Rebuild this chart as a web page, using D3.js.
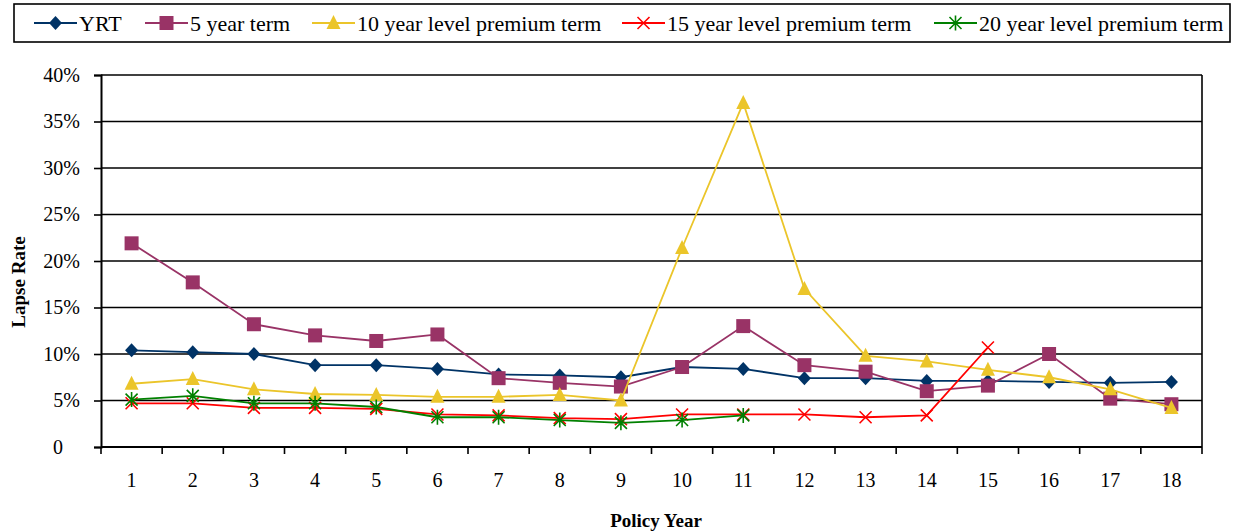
<!DOCTYPE html>
<html>
<head>
<meta charset="utf-8">
<script src="https://cdn.jsdelivr.net/npm/d3@7"></script>
<style>
  body { margin: 0; background: #fff; }
  svg text { font-family: "Liberation Serif", serif; }
</style>
</head>
<body>
<svg id="chart" width="1235" height="531" font-family="Liberation Serif"></svg>
<script>
// policy years and lapse rates (in %)
let years = [1, 2, 3, 4, 5, 6, 7, 8, 9, 10, 11, 12, 13, 14, 15, 16, 17, 18];

let yrt = [10.4, 10.2, 10.0, 8.8, 8.8, 8.4, 7.8, 7.7, 7.5, 8.6, 8.4, 7.4, 7.4, 7.1, 7.1, 7.0, 6.9, 7.0];
let term5 = [21.9, 17.7, 13.2, 12.0, 11.4, 12.1, 7.4, 6.9, 6.5, 8.6, 13.0, 8.8, 8.1, 6.0, 6.6, 10.0, 5.2, 4.6];
let term10 = [6.8, 7.3, 6.2, 5.7, 5.6, 5.4, 5.4, 5.6, 5.0, 21.4, 37.0, 17.0, 9.8, 9.2, 8.3, 7.5, 6.2, 4.2];
let term15 = [4.7, 4.7, 4.2, 4.2, 4.1, 3.5, 3.4, 3.1, 3.0, 3.5, 3.5, 3.5, 3.2, 3.4, 10.7];
let term20 = [5.1, 5.5, 4.7, 4.7, 4.3, 3.2, 3.2, 2.9, 2.6, 2.9, 3.4];

let yTicks = [0, 5, 10, 15, 20, 25, 30, 35, 40];

let seriesNames = ["YRT", "5 year term", "10 year level premium term", "15 year level premium term", "20 year level premium term"];
let seriesColors = ["#003366", "#993366", "#ebc52a", "#ff0000", "#008000"];
let seriesMarkers = ["diamond", "square", "triangle", "x", "star"];
let seriesValues = [yrt, term5, term10, term15, term20];

let svg = d3.select("#chart");

let plotLeft = 101, plotRight = 1202, plotTop = 75, plotBottom = 447;

let x = d3.scaleBand().domain(years).range([plotLeft, plotRight]);
let y = d3.scaleLinear().domain([0, 40]).range([plotBottom, plotTop]);

// marker shapes
function marker(g, type, color) {
    if (type == "diamond") {
        g.append("path").attr("d", "M0,-7L6.5,0L0,7L-6.5,0Z").attr("fill", color);
    } else if (type == "square") {
        g.append("rect").attr("x", -7).attr("y", -7).attr("width", 14).attr("height", 14).attr("fill", color);
    } else if (type == "triangle") {
        g.append("path").attr("d", "M0,-8L7,6L-7,6Z").attr("fill", color);
    } else if (type == "x") {
        g.append("path").attr("d", "M-6,-6L6,6M6,-6L-6,6").attr("stroke", color).attr("stroke-width", 1.6);
    } else if (type == "star") {
        g.append("path").attr("d", "M-6,-6L6,6M6,-6L-6,6M0,-7.5L0,7.5").attr("stroke", color).attr("stroke-width", 1.6);
    }
}

// gridlines
svg.append("g")
    .selectAll("line")
    .data(yTicks.slice(1))
    .join("line")
    .attr("x1", plotLeft)
    .attr("x2", plotRight)
    .attr("y1", d => y(d))
    .attr("y2", d => y(d))
    .attr("stroke", "#000")
    .attr("stroke-width", 1.6);

// right border
svg.append("line")
    .attr("x1", plotRight).attr("x2", plotRight)
    .attr("y1", plotTop).attr("y2", plotBottom)
    .attr("stroke", "#000").attr("stroke-width", 1.6);

// y axis
let yAxis = svg.append("g")
    .attr("transform", "translate(" + plotLeft + ",0)")
    .call(d3.axisLeft(y).tickValues(yTicks).tickSize(7).tickPadding(14)
        .tickFormat(d => d == 0 ? "0" : d + "%"));
yAxis.attr("font-family", "Liberation Serif");
yAxis.select(".domain").attr("stroke-width", 2);
yAxis.selectAll(".tick line").attr("stroke-width", 1.6);
yAxis.selectAll(".tick text")
    .attr("font-size", 20)
    .attr("fill", "#000")
    .attr("dx", d => d == 0 ? -17 : 0);

// x axis: ticks at band edges
let xAxis = svg.append("g").attr("transform", "translate(0," + plotBottom + ")");
xAxis.append("line")
    .attr("x1", plotLeft).attr("x2", plotRight)
    .attr("stroke", "#000").attr("stroke-width", 2);
xAxis.selectAll("line.tk")
    .data(years.concat([0]))
    .join("line")
    .attr("class", "tk")
    .attr("x1", d => d == 0 ? plotRight : x(d))
    .attr("x2", d => d == 0 ? plotRight : x(d))
    .attr("y1", 0).attr("y2", 7)
    .attr("stroke", "#000").attr("stroke-width", 1.6);
xAxis.selectAll("text")
    .data(years)
    .join("text")
    .attr("x", d => x(d) + x.bandwidth() / 2)
    .attr("y", 40)
    .attr("text-anchor", "middle")
    .attr("font-size", 20)
    .text(d => d);

// axis titles
svg.append("text")
    .attr("x", 656).attr("y", 527)
    .attr("text-anchor", "middle")
    .attr("font-size", 19)
    .attr("font-weight", "bold")
    .text("Policy Year");

svg.append("text")
    .attr("transform", "translate(25,282) rotate(-90)")
    .attr("text-anchor", "middle")
    .attr("font-size", 19)
    .attr("font-weight", "bold")
    .text("Lapse Rate");

// series
let line = d3.line()
    .defined(d => d.v != null)
    .x(d => x(d.year) + x.bandwidth() / 2)
    .y(d => y(d.v));

seriesValues.forEach(function(vals, i) {
    let pts = vals.map((v, j) => ({year: years[j], v: v}));
    let g = svg.append("g");
    g.append("path")
        .datum(pts)
        .attr("d", line)
        .attr("fill", "none")
        .attr("stroke", seriesColors[i])
        .attr("stroke-width", 1.8);
    pts.forEach(function(p) {
        let m = g.append("g")
            .attr("transform", "translate(" + (x(p.year) + x.bandwidth() / 2) + "," + y(p.v) + ")");
        marker(m, seriesMarkers[i], seriesColors[i]);
    });
});

// legend
svg.append("rect")
    .attr("x", 14).attr("y", 4)
    .attr("width", 1216).attr("height", 38)
    .attr("fill", "#fff")
    .attr("stroke", "#000")
    .attr("stroke-width", 1.6);

let legendX = [34, 145, 312, 622, 934];

seriesNames.forEach(function(name, i) {
    let g = svg.append("g").attr("transform", "translate(" + legendX[i] + ",23)");
    g.append("line")
        .attr("x1", 0).attr("x2", 43)
        .attr("stroke", seriesColors[i])
        .attr("stroke-width", 1.8);
    let m = g.append("g").attr("transform", "translate(21.5,0)");
    marker(m, seriesMarkers[i], seriesColors[i]);
    g.append("text")
        .attr("x", 45)
        .attr("y", 7.5)
        .attr("font-size", 22)
        .text(name);
});
</script>
</body>
</html>
